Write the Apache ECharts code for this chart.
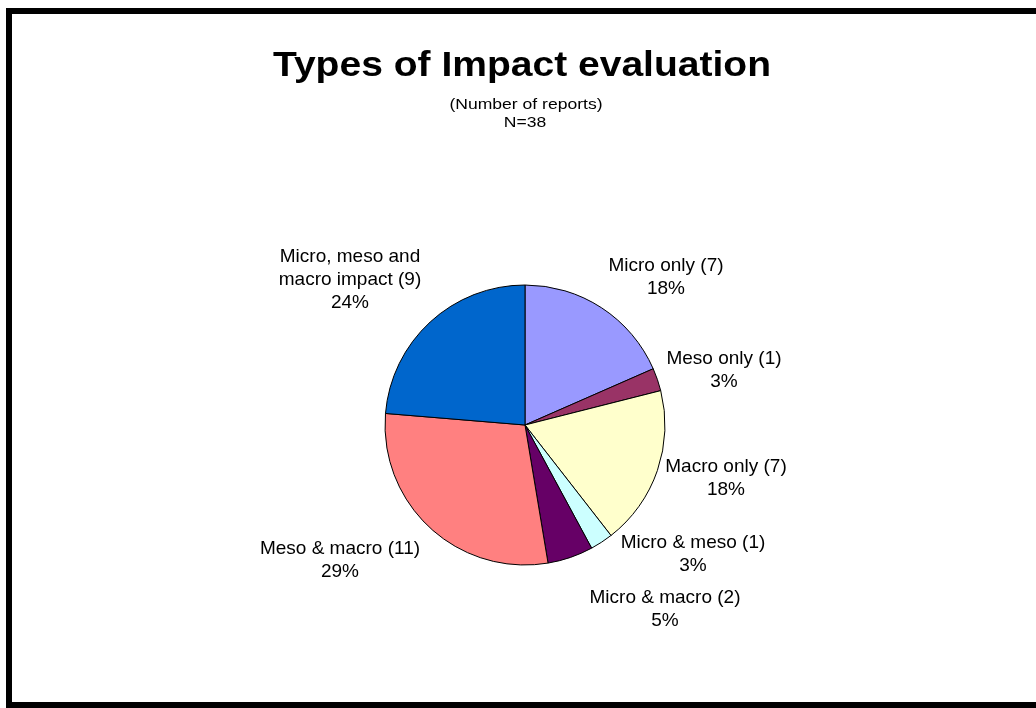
<!DOCTYPE html>
<html>
<head>
<meta charset="utf-8">
<style>
  html, body { margin: 0; padding: 0; background: #ffffff; }
  #chart { width: 1036px; height: 708px; }
</style>
<script src="https://cdn.jsdelivr.net/npm/echarts@6/dist/echarts.min.js"></script>
</head>
<body>
<div id="chart"></div>
<script>
// Report counts by type of impact evaluation (N = 38)
const categories = [
  'Micro only',
  'Meso only',
  'Macro only',
  'Micro & meso',
  'Micro & macro',
  'Meso & macro',
  'Micro, meso and\nmacro impact'
];
const reportCounts = [7, 1, 7, 1, 2, 11, 9];
const sliceColors = ['#9999FF', '#993366', '#FFFFCC', '#CCFFFF', '#660066', '#FF8080', '#0066CC'];

const titleText = 'Types of Impact evaluation';
const subtitleLines = ['(Number of reports)', 'N=38'];

// Where each slice label block is centred
const labelSpots = [
  [666, 277], [724, 370], [726, 478], [693, 554],
  [665, 609], [340, 560], [350, 280]
];

const font = '"Liberation Sans", Arial, Helvetica, sans-serif';
const chart = echarts.init(document.getElementById('chart'), null, { renderer: 'canvas' });

function headingText(text, x, y, size, weight, stretch) {
  return {
    type: 'text',
    x: x,
    y: y,
    scaleX: stretch,
    style: {
      text: text,
      x: 0,
      y: 0,
      align: 'center',
      verticalAlign: 'middle',
      fill: '#000000',
      font: weight + ' ' + size + 'px ' + font
    }
  };
}

chart.setOption({
  backgroundColor: '#ffffff',
  animation: false,
  graphic: [
    // frame around the chart area (open on the right)
    { type: 'rect', shape: { x: 6, y: 8, width: 1030, height: 6 }, style: { fill: '#000000' } },
    { type: 'rect', shape: { x: 6, y: 8, width: 6, height: 700 }, style: { fill: '#000000' } },
    { type: 'rect', shape: { x: 6, y: 702, width: 1030, height: 6 }, style: { fill: '#000000' } },
    headingText(titleText, 522, 66, 35, 'bold', 1.115),
    headingText(subtitleLines[0], 526, 105, 15, 'normal', 1.17),
    headingText(subtitleLines[1], 525, 123, 15, 'normal', 1.17)
  ],
  series: [{
    type: 'pie',
    center: [525, 425],
    radius: 140,
    startAngle: 90,
    clockwise: true,
    percentPrecision: 0,
    avoidLabelOverlap: false,
    itemStyle: { borderColor: '#000000', borderWidth: 1 },
    label: {
      show: true,
      position: 'outside',
      formatter: p => p.name + ' (' + p.value + ')\n' + p.percent + '%',
      fontFamily: font,
      fontSize: 19,
      lineHeight: 23,
      color: '#000000',
      align: 'center'
    },
    labelLine: { show: false },
    labelLayout: params => ({
      x: labelSpots[params.dataIndex][0],
      y: labelSpots[params.dataIndex][1],
      align: 'center',
      verticalAlign: 'middle'
    }),
    emphasis: { disabled: true },
    data: categories.map((name, i) => ({
      name: name,
      value: reportCounts[i],
      itemStyle: { color: sliceColors[i] }
    }))
  }]
});
</script>
</body>
</html>
